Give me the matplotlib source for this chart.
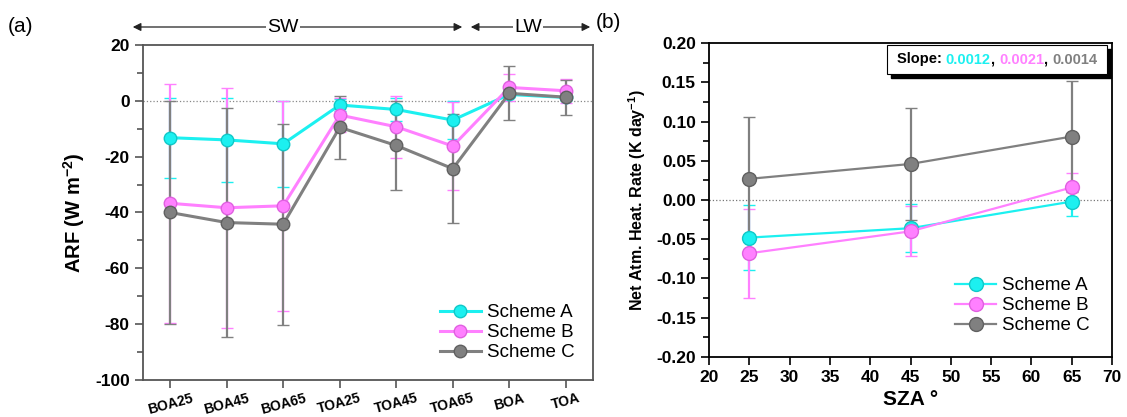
import matplotlib
matplotlib.use("Agg")
import matplotlib.pyplot as plt
from matplotlib.ticker import MultipleLocator
from matplotlib.offsetbox import TextArea, HPacker, AnchoredOffsetbox
from matplotlib.patches import Rectangle
from matplotlib.lines import Line2D

plt.rcParams['font.family'] = ['Liberation Sans', 'DejaVu Sans']
plt.rcParams['axes.unicode_minus'] = False
plt.rcParams['mathtext.fontset'] = 'custom'
plt.rcParams['mathtext.rm'] = 'Liberation Sans'
plt.rcParams['mathtext.bf'] = 'Liberation Sans:bold'

# ---------------- data (a) ----------------
categories = ["BOA25", "BOA45", "BOA65", "TOA25", "TOA45", "TOA65", "BOA", "TOA"]
arf_a = [-13.2, -14.0, -15.4, -1.5, -3.1, -6.9, 2.3, 1.2]
arf_a_err = [14.3, 15.1, 15.4, 2.0, 4.0, 6.9, 1.0, 1.0]
arf_b = [-36.7, -38.3, -37.6, -5.1, -9.3, -16.2, 4.8, 3.6]
arf_b_err = [42.8, 43.0, 37.6, 6.0, 11.0, 15.8, 4.7, 4.3]
arf_c = [-40.0, -43.6, -44.2, -9.5, -16.0, -24.3, 2.7, 1.3]
arf_c_err = [40.0, 41.0, 36.0, 11.2, 16.0, 19.6, 9.6, 6.3]

# ---------------- data (b) ----------------
sza = [25, 45, 65]
heat_a = [-0.048, -0.036, -0.002]
heat_a_err = [0.041, 0.031, 0.018]
heat_b = [-0.068, -0.040, 0.016]
heat_b_err = [0.057, 0.032, 0.019]
heat_c = [0.027, 0.046, 0.081]
heat_c_err = [0.079, 0.072, 0.071]
slopes = ["0.0012", "0.0021", "0.0014"]
scheme_names = ["Scheme A", "Scheme B", "Scheme C"]

col_a = "#1CF0F0"
col_b = "#FF80FF"
col_c = "#808080"
edge_a = "#10C8C8"
edge_b = "#E060E0"
edge_c = "#606060"
styles = [(col_a, edge_a), (col_b, edge_b), (col_c, edge_c)]

fig = plt.figure(figsize=(11.27, 4.17), dpi=100)
W, H = 1127, 417

ax1 = fig.add_axes([143 / W, 1 - 380 / H, 450 / W, 335 / H])
ax2 = fig.add_axes([709 / W, 1 - 356.7 / H, 403 / W, 313.4 / H])

xs = list(range(len(categories)))
for vals, errs, (c, ec) in zip([arf_a, arf_b, arf_c], [arf_a_err, arf_b_err, arf_c_err], styles):
    ax1.errorbar(xs, vals, yerr=errs, color=c, ecolor=c, lw=2.2, elinewidth=1.6,
                 capsize=4, capthick=1.6, marker='o', markersize=9,
                 markerfacecolor=c, markeredgecolor=ec, markeredgewidth=1.0)
ax1.axhline(0, color='#888888', lw=0.9, ls=':', zorder=0)
ax1.set_xlim(-0.48, 7.48)
ax1.set_ylim(-100, 20)
ax1.yaxis.set_major_locator(MultipleLocator(20))
ax1.yaxis.set_minor_locator(MultipleLocator(10))
ax1.set_xticks(xs)
ax1.set_xticklabels(categories, rotation=15, fontsize=10, fontweight='bold')
for lab in ax1.get_yticklabels():
    lab.set_fontweight('bold')
    lab.set_fontsize(12.5)
ax1.tick_params(axis='both', which='both', direction='out', color='#555555', width=1.2)
ax1.tick_params(axis='both', which='major', length=6)
ax1.tick_params(axis='x', which='major', pad=2)
ax1.tick_params(axis='y', which='minor', length=4)
for s in ax1.spines.values():
    s.set_color('#555555')
    s.set_linewidth(1.3)
ax1.set_ylabel("ARF (W m$^{\\mathbf{-2}}$)", fontsize=14.5, fontweight='bold', labelpad=6)
h1 = [Line2D([], [], color=c, lw=2.2, marker='o', markersize=9, markerfacecolor=c,
             markeredgecolor=ec) for c, ec in styles]
ax1.legend(h1, scheme_names, loc='lower right', frameon=False, fontsize=13.5, handlelength=2.2,
           handletextpad=0.3, labelspacing=0.15, borderaxespad=0.6)

for vals, errs, (c, ec) in zip([heat_a, heat_b, heat_c], [heat_a_err, heat_b_err, heat_c_err], styles):
    ax2.errorbar(sza, vals, yerr=errs, color=c, ecolor=c, lw=1.6, elinewidth=1.6,
                 capsize=4, capthick=1.6, marker='o', markersize=10,
                 markerfacecolor=c, markeredgecolor=ec, markeredgewidth=1.0)
ax2.axhline(0, color='#777777', lw=0.9, ls=':', zorder=0)
ax2.set_xlim(20, 70)
ax2.set_ylim(-0.2, 0.2)
ax2.xaxis.set_major_locator(MultipleLocator(5))
ax2.yaxis.set_major_locator(MultipleLocator(0.05))
ax2.yaxis.set_minor_locator(MultipleLocator(0.025))
ax2.yaxis.set_major_formatter(matplotlib.ticker.FormatStrFormatter('%.2f'))
for lab in ax2.get_yticklabels() + ax2.get_xticklabels():
    lab.set_fontweight('bold')
    lab.set_fontsize(12.5)
ax2.tick_params(axis='both', which='both', direction='out', color='black', width=1.2)
ax2.tick_params(axis='both', which='major', length=6)
ax2.tick_params(axis='y', which='minor', length=4)
for s in ax2.spines.values():
    s.set_color('black')
    s.set_linewidth(1.3)
ax2.set_ylabel("Net Atm. Heat. Rate (K day$^{\\mathbf{-1}}$)", fontsize=11.5, fontweight='bold', labelpad=6)
ax2.set_xlabel("SZA °", fontsize=15, fontweight='bold', labelpad=4)
h2 = [Line2D([], [], color=c, lw=1.6, marker='o', markersize=10, markerfacecolor=c,
             markeredgecolor=ec) for c, ec in styles]
ax2.legend(h2, scheme_names, loc='lower right', frameon=False, fontsize=13.5, handlelength=2.2,
           handletextpad=0.3, labelspacing=0.15, borderaxespad=0.8)

# slope box with shadow
bx0, bx1 = (887 - 709) / 403, (1107 - 709) / 403
by1, by0 = (356.7 - 45) / 313.4, (356.7 - 74) / 313.4
dx, dy = 4 / 403, 4 / 313.4
ax2.add_patch(Rectangle((bx0 + dx, by0 - dy), bx1 - bx0, by1 - by0, transform=ax2.transAxes,
                        facecolor='black', edgecolor='black', zorder=5, clip_on=False))
ax2.add_patch(Rectangle((bx0, by0), bx1 - bx0, by1 - by0, transform=ax2.transAxes,
                        facecolor='white', edgecolor='black', lw=0.8, zorder=6, clip_on=False))
parts = [("Slope: ", 'black'), (slopes[0], col_a), (", ", 'black'),
         (slopes[1], col_b), (", ", 'black'), (slopes[2], col_c)]
tas = [TextArea(t, textprops=dict(color=c, fontsize=10.5, fontweight='bold')) for t, c in parts]
pk = HPacker(children=tas, align='center', pad=0, sep=0)
ab = AnchoredOffsetbox(loc='center', child=pk, frameon=False, pad=0, borderpad=0,
                       bbox_to_anchor=((bx0 + bx1) / 2, (by0 + by1) / 2),
                       bbox_transform=ax2.transAxes)
ab.set_zorder(7)
ax2.add_artist(ab)

# top SW / LW arrows
ya = 1 - 27 / H
fig.add_artist(matplotlib.patches.FancyArrowPatch((130 / W, ya), (465 / W, ya), transform=fig.transFigure,
                                                  arrowstyle='<|-|>', mutation_scale=12, color='#222222', lw=0.9))
fig.add_artist(matplotlib.patches.FancyArrowPatch((468 / W, ya), (593 / W, ya), transform=fig.transFigure,
                                                  arrowstyle='<|-|>', mutation_scale=12, color='#222222', lw=0.9))
fig.text(283 / W, ya, "SW", ha='center', va='center', fontsize=14,
         bbox=dict(facecolor='white', edgecolor='none', pad=1))
fig.text(528 / W, ya, "LW", ha='center', va='center', fontsize=14,
         bbox=dict(facecolor='white', edgecolor='none', pad=1))
fig.text(8 / W, ya, "(a)", ha='left', va='center', fontsize=15)
fig.text(596 / W, 1 - 22 / H, "(b)", ha='left', va='center', fontsize=15)

fig.savefig("out.png", dpi=100)
